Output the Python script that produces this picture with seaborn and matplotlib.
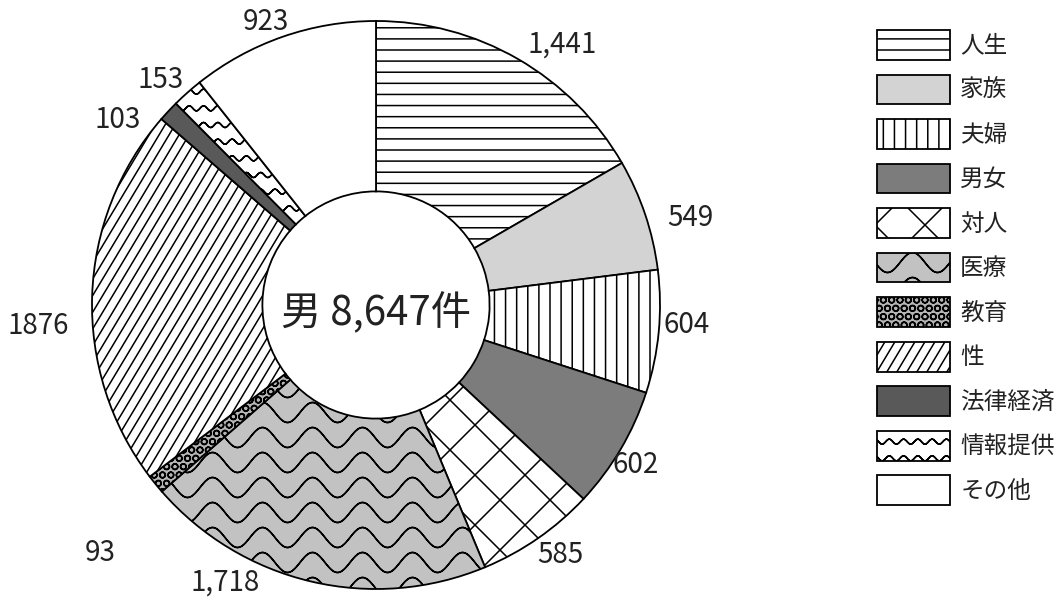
import warnings
warnings.filterwarnings("ignore")
import numpy as np
import matplotlib
matplotlib.use("Agg")
import matplotlib.pyplot as plt
import matplotlib.hatch as mhatch
from matplotlib.path import Path
import seaborn as sns

# ---------------- data ----------------
categories = ['人生', '家族', '夫婦', '男女', '対人', '医療', '教育', '性', '法律経済', '情報提供', 'その他']
counts = [1441, 549, 604, 602, 585, 1718, 93, 1876, 103, 153, 923]
value_labels = ['1,441', '549', '604', '602', '585', '1,718', '93', '1876', '103', '153', '923']
center_label = '男 8,647件'

# ---------------- styling / layout ----------------
face_colors = ['white', '#d3d3d3', 'white', '#7c7c7c', 'white', '#c2c2c2',
               '#b5b5b5', 'white', '#595959', 'white', 'white']
hatches = ['h', None, 'v', None, 'd', 'w', 'OO', 's', None, 'm', None]
label_nudge_deg = [5.6, 3.1, -1.8, 1.1, -1.7, 15.3, -2.8, -5.5, -7.5, -2.2, -2.1]
label_dist = [1.126, 1.147, 1.097, 1.075, 1.093, 1.114, 1.307, 1.19, 1.118, 1.098, 1.07]

# ---------------- custom hatch patterns ----------------
def hlines(n):
    return [np.array([[-0.05, (i + 0.5) / n], [1.05, (i + 0.5) / n]]) for i in range(n)]

def vlines(n):
    return [np.array([[(i + 0.5) / n, -0.05], [(i + 0.5) / n, 1.05]]) for i in range(n)]

def slanted(q, step):
    out = []
    for k in range(int(-3 / step), int(3 / step) + 1):
        c = k * step
        out.append(np.array([[c + (-0.05) / q, -0.05], [c + 1.05 / q, 1.05]]))
    return out

def waves(nlines, periods, amp):
    # each wave is traced forward and back so the implicit fill has zero area
    out = []
    x = np.linspace(-0.02, 1.02, 260)
    for j in range(-1, nlines + 1):
        y0 = (j + 0.5) / nlines
        pts = np.column_stack([x, y0 + amp * np.sin(2 * np.pi * periods * x)])
        out.append(np.vstack([pts, pts[::-1]]))
    return out

HATCH_SPECS = {
    'h': hlines(9),
    'v': vlines(9),
    's': slanted(5 / 3, 0.1),
    'd': slanted(1.0, 0.5) + slanted(-1.0, 0.5),
    'w': waves(4, 2, 0.1),
    'm': waves(6, 7, 0.025),
}

class CustomHatch(mhatch.HatchPatternBase):
    def __init__(self, hatch, density):
        self.lines = []
        for ch, polys in HATCH_SPECS.items():
            if ch in hatch:
                self.lines.extend(polys)
        self.num_vertices = sum(len(p) for p in self.lines)

    def set_vertices_and_codes(self, vertices, codes):
        i = 0
        for p in self.lines:
            n = len(p)
            vertices[i:i + n] = p
            codes[i] = Path.MOVETO
            codes[i + 1:i + n] = Path.LINETO
            i += n

mhatch._hatch_types.append(CustomHatch)

# ---------------- plot ----------------
sns.set_theme(style='white')
plt.rcParams['font.family'] = ['Noto Sans CJK JP', 'DejaVu Sans']
plt.rcParams['hatch.linewidth'] = 1.1

fig = plt.figure(figsize=(10.6, 6.0), dpi=100)
fig.patch.set_facecolor('white')
ax = fig.add_axes([0, 0, 1, 1])

R_PX = 284.0
CX, CY = 376.0, 305.0  # center in pixels from top-left

wedges, _ = ax.pie(counts, startangle=90, counterclock=False, radius=1.0,
                   colors=face_colors,
                   wedgeprops=dict(width=0.60, edgecolor='black', linewidth=1.3))
for w, h in zip(wedges, hatches):
    if h:
        w.set_hatch(h)

ax.set_xlim(-CX / R_PX, (1060 - CX) / R_PX)
ax.set_ylim(-(600 - CY) / R_PX, CY / R_PX)
ax.set_aspect('auto')
ax.axis('off')

# value labels from wedge mid-angles
total = float(sum(counts))
cum = 0.0
for val, lab, nud, dist in zip(counts, value_labels, label_nudge_deg, label_dist):
    mid = (cum + val / 2) / total * 360.0 + nud
    cum += val
    th = np.deg2rad(mid)
    ax.text(dist * np.sin(th), dist * np.cos(th), lab, ha='center', va='center',
            fontsize=20, color='#222222')

ax.text(0, -0.03, center_label, ha='center', va='center', fontsize=29, color='#222222')

leg = fig.legend(wedges, categories, loc='upper left',
                 bbox_to_anchor=(877 / 1060, 1 - 30 / 600), bbox_transform=fig.transFigure,
                 frameon=False, fontsize=17, handlelength=3.1, handleheight=1.57,
                 labelspacing=0.62, handletextpad=0.42, borderpad=0, borderaxespad=0)
for t in leg.get_texts():
    t.set_color('#222222')

fig.savefig('out.png', dpi=100, facecolor='white')
